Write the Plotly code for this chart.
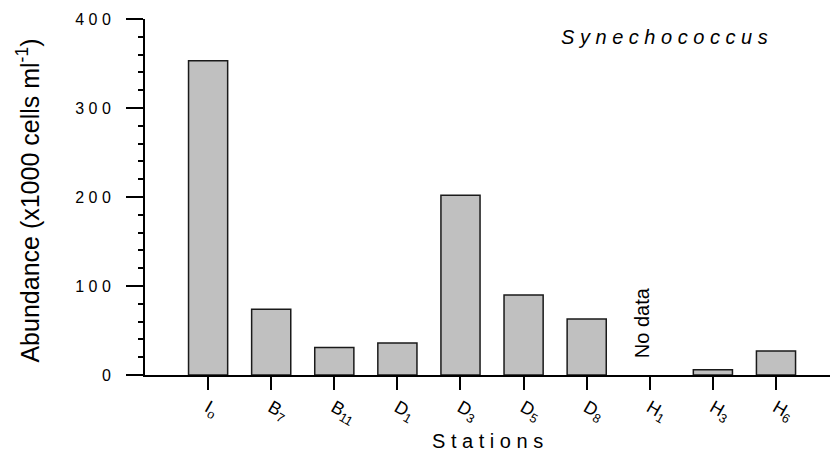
import plotly.graph_objects as go

# Stations along the transect (subscripted station numbers)
stations = ["I<sub>o</sub>", "B<sub>7</sub>", "B<sub>11</sub>", "D<sub>1</sub>", "D<sub>3</sub>",
            "D<sub>5</sub>", "D<sub>8</sub>", "H<sub>1</sub>", "H<sub>3</sub>", "H<sub>6</sub>"]
# Synechococcus abundance, x1000 cells per ml (H1 not sampled)
abundance = [353, 74, 31, 36, 202, 90, 63, None, 6, 27]

y_tickvals = [0, 100, 200, 300, 400]
y_ticktext = ["0", "1 0 0", "2 0 0", "3 0 0", "4 0 0"]

FONT = "Liberation Sans, Arial, sans-serif"

fig = go.Figure()
fig.add_trace(go.Bar(
    x=stations,
    y=abundance,
    marker=dict(color="#c0c0c0", line=dict(color="#1a1a1a", width=1.5)),
    showlegend=False,
))

fig.update_layout(
    width=831, height=458,
    margin=dict(l=145, r=1, t=19, b=83),
    paper_bgcolor="white", plot_bgcolor="white",
    bargap=0.38,
    font=dict(family=FONT, color="black"),
    xaxis=dict(
        type="category",
        range=[-1, 9.856],
        showline=True, linecolor="black", linewidth=2,
        ticks="outside", ticklen=13, tickwidth=2, tickcolor="black",
        tickangle=30,
        tickfont=dict(size=18, family=FONT),
        showgrid=False, zeroline=False,
    ),
    yaxis=dict(
        range=[0, 400],
        showline=True, linecolor="black", linewidth=2,
        tickvals=y_tickvals, ticktext=y_ticktext,
        ticks="outside", ticklen=17, tickwidth=2, tickcolor="black",
        ticklabelstandoff=12,
        tickfont=dict(size=16, family=FONT),
        minor=dict(ticks="outside", ticklen=5, tickwidth=2, tickcolor="black", dtick=20, showgrid=False),
        showgrid=False, zeroline=False,
    ),
    annotations=[
        dict(text="S t a t i o n s",
             xref="paper", yref="paper", x=0.5, y=(375 - 441) / 356,
             xanchor="center", yanchor="middle", showarrow=False,
             font=dict(size=20, family=FONT)),
        dict(text="Abundance (x1000 cells ml<sup>-1</sup>)", textangle=-90,
             xref="paper", yref="paper", x=-117 / 685, y=0.49,
             xanchor="center", yanchor="middle", showarrow=False,
             font=dict(size=25, family=FONT)),
        dict(text="<i>S y n e c h o c o c c u s</i>",
             xref="paper", yref="paper", x=(664 - 145) / 685, y=(375 - 37) / 356,
             xanchor="center", yanchor="middle", showarrow=False,
             font=dict(size=20, family=FONT)),
        dict(text="No data", textangle=-90,
             xref="x", yref="y", x=7, y=17, xshift=-7,
             xanchor="center", yanchor="bottom", showarrow=False,
             font=dict(size=20, family=FONT)),
    ],
)

fig.write_html("out.html")
